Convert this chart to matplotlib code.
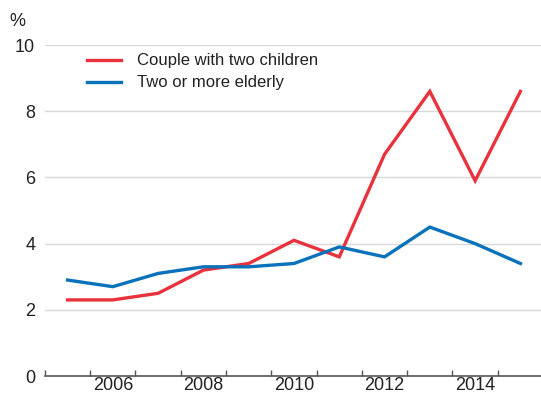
import matplotlib.pyplot as plt
import numpy as np

plt.rcParams['font.family'] = ['Liberation Sans', 'DejaVu Sans']

# --- Data ---
years = [2005, 2006, 2007, 2008, 2009, 2010, 2011, 2012, 2013, 2014, 2015]
couple_two_children = [2.3, 2.3, 2.5, 3.2, 3.4, 4.1, 3.6, 6.7, 8.6, 5.9, 8.6]
two_or_more_elderly = [2.9, 2.7, 3.1, 3.3, 3.3, 3.4, 3.9, 3.6, 4.5, 4.0, 3.4]
year_labels = [2006, 2008, 2010, 2012, 2014]
y_ticks = [0, 2, 4, 6, 8, 10]

# --- Plot ---
fig = plt.figure(figsize=(5.41, 3.95), dpi=100)
ax = fig.add_axes([0.083, 0.048, 0.925, 0.838])

ax.plot(years, couple_two_children, color='#E8333E', linewidth=2.4,
        label='Couple with two children', solid_joinstyle='miter')
ax.plot(years, two_or_more_elderly, color='#0A72BA', linewidth=2.4,
        label='Two or more elderly', solid_joinstyle='miter')

ax.set_xlim(2004.5, 2015.55)
ax.set_ylim(0, 10)

ax.set_yticks(y_ticks)
ax.set_yticklabels([str(t) for t in y_ticks])
ax.grid(axis='y', color='#d9d9d9', linewidth=1.0)
ax.set_axisbelow(True)

ax.set_xticks(year_labels)
ax.set_xticklabels([str(y) for y in year_labels])
ax.set_xticks(np.arange(2004.5, 2016, 1.0), minor=True)
ax.tick_params(axis='x', which='major', length=0, pad=1, labelsize=13, labelcolor='#222222')
ax.tick_params(axis='x', which='minor', length=4, direction='in', color='#555555', width=1.0)
ax.tick_params(axis='y', length=0, pad=7, labelsize=13, labelcolor='#222222')

for s in ['top', 'right', 'left']:
    ax.spines[s].set_visible(False)
ax.spines['bottom'].set_color('#555555')
ax.spines['bottom'].set_linewidth(1.2)

fig.text(0.018, 0.935, '%', fontsize=13, color='#222222')

leg = ax.legend(loc='upper left', bbox_to_anchor=(0.055, 1.02), frameon=False,
                fontsize=12, handlelength=2.0, handletextpad=1.0, labelspacing=0.42)
for t in leg.get_texts():
    t.set_color('#222222')

plt.savefig('out.png', dpi=100)
